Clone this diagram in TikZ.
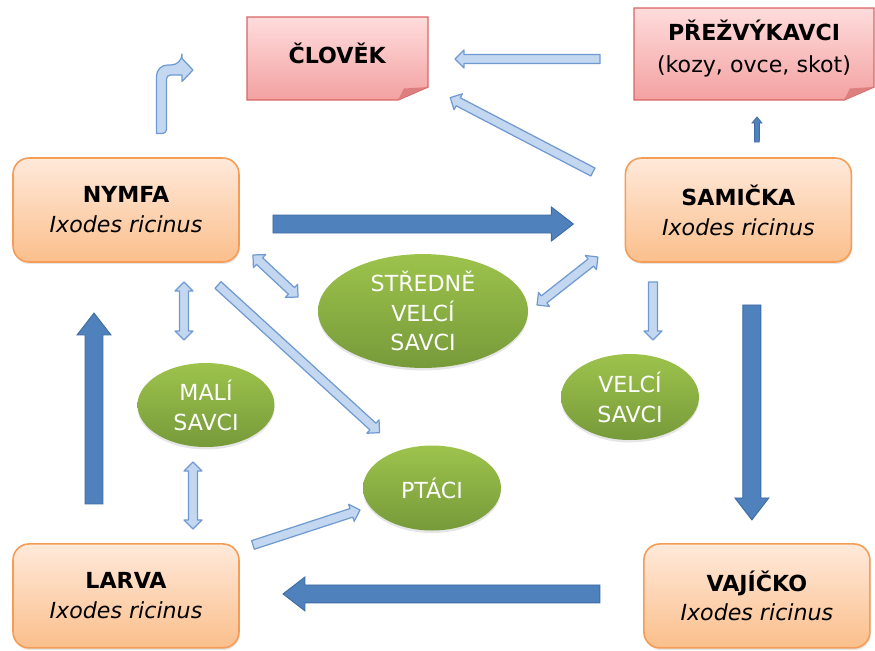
\documentclass[tikz,border=0pt]{standalone}
\usepackage{fontspec}
\setmainfont{DejaVu Sans}
\usetikzlibrary{positioning,calc,shapes.geometric,shadows,backgrounds}

\definecolor{stageline}{HTML}{F59D56}
\definecolor{stagetop}{HTML}{FFE9DA}
\definecolor{stagebot}{HTML}{FBBF8C}
\definecolor{notetop}{HTML}{FFDCDC}
\definecolor{notebot}{HTML}{F3A1A1}
\definecolor{noteline}{HTML}{D86464}
\definecolor{foldpink}{HTML}{DD7F7F}
\definecolor{hosttop}{HTML}{9DC34C}
\definecolor{hostbot}{HTML}{779A3A}
\definecolor{lifeblue}{HTML}{4F81BD}
\definecolor{lifeline}{HTML}{3E6BA3}
\definecolor{feedfill}{HTML}{C3D7F0}
\definecolor{feedline}{HTML}{6F9AD1}

\tikzset{
    stage/.style={rectangle, rounded corners=0.32cm, draw=stageline, line width=0.9pt, outer sep=0pt,
        top color=stagetop, bottom color=stagebot, minimum width=4.52cm, minimum height=2.08cm,
        align=center, font=\fontsize{12.6}{17}\selectfont,
        drop shadow={opacity=0.2, shadow xshift=0.02cm, shadow yshift=-0.04cm}},
    host/.style={ellipse, top color=hosttop, bottom color=hostbot, text=white, inner sep=0pt, outer sep=0pt,
        align=center, font=\fontsize{12.6}{17}\selectfont,
        drop shadow={opacity=0.2, shadow xshift=0cm, shadow yshift=-0.05cm}},
    note/.style={rectangle, minimum width=3.62cm, minimum height=1.66cm, align=center, outer sep=0pt,
        text depth=0.22cm, font=\fontsize{12.6}{18}\selectfont},
    notebox/.style={draw=noteline, line width=0.8pt, top color=notetop, bottom color=notebot},
    arrowdims/.code args={#1/#2/#3}{\def\aw{#1}\def\ahw{#2}\def\ahl{#3}},
    life/.style={fill=lifeblue, draw=lifeline, line width=0.5pt, arrowdims={0.18cm/0.34cm/0.44cm}},
    lifesmall/.style={fill=lifeblue, draw=lifeline, line width=0.4pt, arrowdims={0.05cm/0.1cm/0.12cm}},
    feed/.style={fill=feedfill, draw=feedline, line width=0.7pt, line join=round,
        arrowdims={0.09cm/0.18cm/0.18cm}},
}

\newcommand{\blockedge}[3][feed]{%
    \draw[#1] let \p1=(#2), \p2=(#3), \n1={atan2(\y2-\y1,\x2-\x1)}, \n2={veclen(\x2-\x1,\y2-\y1)} in
        {[shift={(\p1)}, rotate=\n1] (0pt,\aw) -- (\n2-\ahl,\aw) -- (\n2-\ahl,\ahw) -- (\n2,0pt)
        -- (\n2-\ahl,-\ahw) -- (\n2-\ahl,-\aw) -- (0pt,-\aw) -- cycle};}
\newcommand{\blockedges}[3][feed]{%
    \draw[#1] let \p1=(#2), \p2=(#3), \n1={atan2(\y2-\y1,\x2-\x1)}, \n2={veclen(\x2-\x1,\y2-\y1)} in
        {[shift={(\p1)}, rotate=\n1] (0pt,0pt) -- (\ahl,\ahw) -- (\ahl,\aw) -- (\n2-\ahl,\aw)
        -- (\n2-\ahl,\ahw) -- (\n2,0pt) -- (\n2-\ahl,-\ahw) -- (\n2-\ahl,-\aw) -- (\ahl,-\aw)
        -- (\ahl,-\ahw) -- cycle};}
\newcommand{\notefold}[1]{%
    \draw[notebox] (#1.north west) -- (#1.north east) -- ([yshift=0.26cm]#1.south east)
        -- ([xshift=-0.6cm]#1.south east) -- (#1.south west) -- cycle;
    \fill[foldpink] ([yshift=0.26cm]#1.south east) -- ([xshift=-0.6cm]#1.south east)
        -- ([xshift=-0.48cm,yshift=0.23cm]#1.south east) -- cycle;}

\begin{document}
\begin{tikzpicture}[x=0.02cm, y=-0.02cm]
    \useasboundingbox (0,0) rectangle (875,650);

    \node[stage] (nymfa) at (126,210) {\textbf{NYMFA}\\\textit{Ixodes ricinus}};
    \node[stage, right=7.73cm of nymfa] (samicka) {\textbf{SAMIČKA}\\\textit{Ixodes ricinus}};
    \node[stage, below=5.64cm of nymfa] (larva) {\textbf{LARVA}\\\textit{Ixodes ricinus}};
    \node[stage, below=5.64cm of samicka, xshift=0.37cm] (vajicko) {\textbf{VAJÍČKO}\\\textit{Ixodes ricinus}};

    \node[note] (clovek) at (337.5,58.5) {\textbf{ČLOVĚK}};
    \node[note, minimum width=4.8cm, minimum height=1.84cm, text depth=0.3cm] (prezv) at (754,54) {\textbf{PŘEŽVÝKAVCI}\\(kozy, ovce, skot)};

    \node[host, minimum width=4.2cm, minimum height=2.14cm] (savci_s) at (423,311) {STŘEDNĚ\\VELCÍ\\SAVCI};
    \node[host, minimum width=2.74cm, minimum height=1.68cm] (savci_m) at (206,405) {MALÍ\\SAVCI};
    \node[host, minimum width=2.76cm, minimum height=1.72cm] (savci_v) at (630,397) {VELCÍ\\SAVCI};
    \node[host, minimum width=2.76cm, minimum height=1.7cm] (ptaci) at (432,488) {PTÁCI};

    \begin{scope}[on background layer]
        \notefold{clovek}
        \notefold{prezv}
    \end{scope}

    \blockedge[life]{$(nymfa.east)+(34,14)$}{$(samicka.west)+(-52,14)$}
    \blockedge[life]{$(samicka.south)+(13.5,43)$}{$(vajicko.north)+(-5,-24)$}
    \blockedge[life]{$(vajicko.west)+(-44,-2)$}{$(larva.east)+(44,-2)$}
    \blockedge[life]{$(larva.north)+(-32,-40)$}{$(nymfa.south)+(-32,51)$}
    \blockedge[lifesmall]{$(samicka.north)+(18.5,-16)$}{$(prezv.south)+(3,17)$}

    \blockedge{$(prezv.west)+(-34,5)$}{$(clovek.east)+(27,0.5)$}
    \blockedge{$(samicka.north west)+(-32.5,14)$}{$(clovek.south east)+(22,-2.5)$}
    \blockedges{$(nymfa.south east)+(14,-7)$}{$(savci_s.west)+(-20,-14)$}
    \blockedges{$(nymfa.south)+(58,20)$}{$(savci_m.north)+(-22,-23)$}
    \blockedge{$(nymfa.south)+(92,23)$}{$(ptaci.north)+(-52,-12.5)$}
    \blockedges{$(savci_m.south)+(-13,15)$}{$(larva.north)+(67,-15)$}
    \blockedge{$(larva.north east)+(14,1)$}{$(ptaci.west)+(-3,22)$}
    \blockedges{$(samicka.south west)+(-27.5,-5)$}{$(savci_s.east)+(9,-6)$}
    \blockedge{$(samicka.south)+(-85.5,20)$}{$(savci_v.north)+(23,-14)$}

    \draw[feed] ($(nymfa.north)+(30.5,-24.5)$) [rounded corners=0.22cm] -- ++(0,-68.5) -- ++(25.5,0)
        [sharp corners] -- ++(0,-6.5) -- ++(11,11.5) -- ++(-11,11.5) -- ++(0,-6.5)
        [rounded corners=0.08cm] -- ++(-15.5,0) -- ++(0,58.5) [sharp corners] -- cycle;
\end{tikzpicture}
\end{document}
